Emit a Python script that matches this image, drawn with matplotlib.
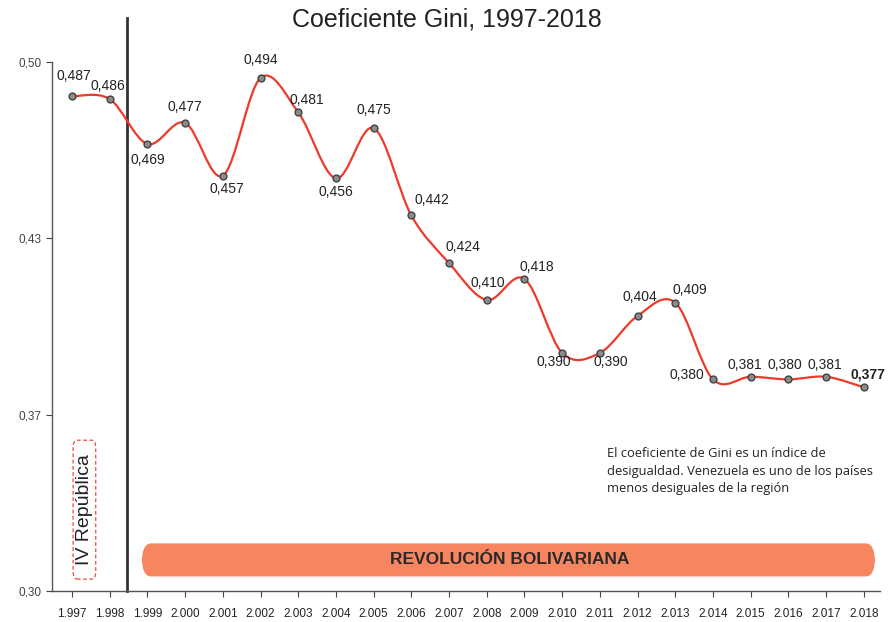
import numpy as np
import matplotlib
matplotlib.use("Agg")
import matplotlib.pyplot as plt
from matplotlib.path import Path
from matplotlib.patches import PathPatch, FancyBboxPatch

years = list(range(1997, 2019))
gini = [0.487, 0.486, 0.469, 0.477, 0.457, 0.494, 0.481, 0.456, 0.475, 0.442,
        0.424, 0.410, 0.418, 0.390, 0.390, 0.404, 0.409, 0.380, 0.381, 0.380,
        0.381, 0.377]
year_labels = ["1.997", "1.998", "1.999", "2.000", "2.001", "2.002", "2.003",
               "2.004", "2.005", "2.006", "2.007", "2.008", "2.009", "2.010",
               "2.011", "2.012", "2.013", "2.014", "2.015", "2.016", "2.017",
               "2.018"]
ytick_vals = [0.30, 0.30 + 0.2 / 3, 0.30 + 0.4 / 3, 0.50]
ytick_labels = ["0,30", "0,37", "0,43", "0,50"]
# label offsets in pixels (dx, dy) relative to each point
offsets = [(2, 20), (-2, 13), (0, -16), (0, 16), (4, -13), (0, 18), (9, 12),
           (0, -14), (0, 18), (21, 15), (14, 16), (1, 17), (12, 12), (-8, -9),
           (11, -9), (2, 19), (15, 13), (-26, 4), (-6, 12), (-4, 14), (-1, 12),
           (4, 13)]

plt.rcParams['font.family'] = ['Liberation Sans', 'DejaVu Sans']

fig = plt.figure(figsize=(8.94, 6.22), dpi=100)
ax = fig.add_axes([52 / 894, 31 / 622, 828 / 894, 529 / 622])

# smooth line (Catmull-Rom as cubic Bezier)
x = np.array(years, dtype=float)
y = np.array(gini)
verts = [(x[0], y[0])]
codes = [Path.MOVETO]
for i in range(len(x) - 1):
    x0, y0 = (x[i - 1], y[i - 1]) if i > 0 else (x[i], y[i])
    x3, y3 = (x[i + 2], y[i + 2]) if i + 2 < len(x) else (x[i + 1], y[i + 1])
    c1 = (x[i] + (x[i + 1] - x0) / 6, y[i] + (y[i + 1] - y0) / 6)
    c2 = (x[i + 1] - (x3 - x[i]) / 6, y[i + 1] - (y3 - y[i]) / 6)
    verts += [c1, c2, (x[i + 1], y[i + 1])]
    codes += [Path.CURVE4] * 3
ax.add_patch(PathPatch(Path(verts, codes), facecolor='none',
                       edgecolor='#ee3a2a', lw=1.6, zorder=3))
ax.plot(years, gini, 'o', ms=5, mfc='#8a8a8a', mec='#3a3a3a', mew=0.9, zorder=4)

for i, (yr, v) in enumerate(zip(years, gini)):
    ax.annotate(f"{v:.3f}".replace('.', ','), (yr, v), xytext=offsets[i],
                textcoords='offset pixels', ha='center', va='center',
                fontsize=10, color='#222222',
                fontweight='bold' if yr == 2018 else 'normal', zorder=5)

ax.set_xlim(1996.47, 2018.43)
ax.set_ylim(0.30, 0.50)
ax.set_xticks(years)
ax.set_xticklabels(year_labels, fontsize=8.5, color='#222222')
ax.set_yticks(ytick_vals)
ax.set_yticklabels(ytick_labels, fontsize=8.5, color='#444444')
ax.tick_params(axis='both', length=4, width=0.8, color='#444444')
ax.tick_params(axis='x', pad=8)
for s in ['top', 'right']:
    ax.spines[s].set_visible(False)
for s in ['left', 'bottom']:
    ax.spines[s].set_color('#555555')
    ax.spines[s].set_linewidth(1.0)

# divider between periods
ax.axvline(1998.46, ymin=0, ymax=1.083, color='#333333', lw=2, clip_on=False)

# banner
ax.add_patch(FancyBboxPatch((1998.85, 0.3055), 19.45, 0.0125,
                            boxstyle="round,pad=0,rounding_size=0.25",
                            mutation_aspect=0.03,
                            facecolor='#f7855f', edgecolor='none', zorder=2))
ax.text(2008.6, 0.3118, "REVOLUCIÓN BOLIVARIANA", ha='center', va='center',
        fontsize=12.5, fontweight='bold', color='#2a2a2a', zorder=3)

# IV Republica
ax.add_patch(FancyBboxPatch((1997.03, 0.3045), 0.6, 0.0525,
                            boxstyle="round,pad=0,rounding_size=0.1",
                            mutation_aspect=0.03,
                            facecolor='white', edgecolor='#ee4a3a',
                            lw=0.9, ls=(0, (3, 2)), zorder=2))
ax.text(1997.33, 0.3308, "IV República", rotation=90, ha='center', va='center',
        fontsize=14, color='#222222', zorder=3)

ax.text(2011.2, 0.3452,
        "El coeficiente de Gini es un índice de\n"
        "desigualdad. Venezuela es uno de los países\n"
        "menos desiguales de la región",
        ha='left', va='center', fontsize=9.3, color='#222222',
        family=['Open Sans', 'DejaVu Sans'], linespacing=1.45)

fig.text(0.5, 1 - 20 / 622, "Coeficiente Gini, 1997-2018", ha='center',
         va='center', fontsize=18, color='#222222')

fig.savefig("out.png", dpi=100)
